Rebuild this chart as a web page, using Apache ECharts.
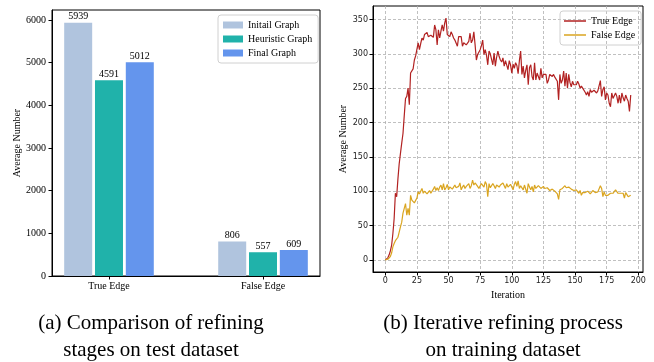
<!DOCTYPE html>
<html>
<head>
<meta charset="utf-8">
<script src="https://cdn.jsdelivr.net/npm/echarts@6/dist/echarts.min.js"></script>
<style>
  html, body { margin: 0; padding: 0; background: #fff; }
  #main { width: 654px; height: 362px; }
</style>
</head>
<body>
<div id="main"></div>
<script>
// 左图：各阶段对比
var edgeTypes = ['True Edge', 'False Edge'];
var initialGraph = [5939, 806];
var heuristicGraph = [4591, 557];
var finalGraph = [5012, 609];

// 右图：迭代过程（0..194）
var trueEdge = [
  0, 1, 3, 7, 13, 21, 38, 60, 97, 92,
  118, 140, 155, 170, 184, 210, 235, 238, 250, 226,
  272, 270, 278, 291, 297, 298, 316, 306, 315, 323,
  320, 328, 330, 331, 325, 323, 327, 325, 324, 342,
  335, 313, 335, 323, 333, 342, 333, 345, 352, 328,
  326, 325, 332, 328, 323, 320, 322, 311, 325, 324,
  325, 311, 316, 314, 313, 315, 318, 330, 316, 320,
  332, 313, 291, 299, 301, 306, 312, 320, 299, 306,
  298, 284, 304, 300, 299, 284, 301, 282, 295, 304,
  296, 291, 288, 294, 282, 290, 291, 277, 290, 284,
  272, 285, 279, 287, 283, 271, 290, 304, 270, 282,
  265, 276, 284, 255, 280, 284, 267, 262, 287, 262,
  272, 267, 262, 279, 265, 270, 268, 270, 257, 262,
  270, 268, 267, 270, 266, 267, 260, 233, 270, 257,
  262, 275, 253, 272, 250, 270, 258, 252, 260, 255,
  257, 255, 260, 256, 250, 253, 250, 248, 244, 240,
  245, 238, 248, 244, 243, 247, 245, 243, 246, 248,
  261, 238, 248, 252, 233, 243, 240, 228, 223, 243,
  235, 233, 243, 238, 228, 240, 228, 243, 236, 231,
  240, 235, 231, 216, 240
];
var falseEdge = [
  0, 0, 1, 2, 5, 10, 19, 24, 28, 29,
  33, 31, 48, 55, 68, 70, 82, 65, 75, 65,
  94, 87, 85, 83, 85, 90, 99, 96, 94, 104,
  97, 100, 102, 96, 94, 101, 97, 99, 103, 107,
  101, 105, 101, 106, 109, 102, 111, 102, 105, 110,
  102, 106, 108, 103, 104, 109, 105, 103, 107, 112,
  102, 106, 109, 104, 107, 105, 111, 104, 108, 116,
  109, 112, 114, 107, 104, 108, 111, 109, 106, 114,
  110, 92, 111, 105, 107, 111, 108, 104, 109, 111,
  106, 109, 107, 112, 108, 104, 111, 106, 107, 110,
  109, 102, 110, 114, 107, 115, 104, 108, 109, 102,
  109, 107, 97, 111, 106, 102, 107, 99, 109, 104,
  104, 108, 109, 104, 106, 107, 104, 102, 105, 104,
  101, 99, 103, 102, 100, 99, 96, 88, 102, 101,
  104, 106, 108, 105, 104, 106, 105, 103, 104, 101,
  99, 102, 100, 97, 101, 94, 98, 99, 98, 99,
  100, 99, 96, 98, 101, 99, 98, 100, 99, 97,
  108, 104, 92, 99, 94, 96, 94, 93, 97, 95,
  97, 99, 102, 101, 97, 96, 97, 95, 97, 90,
  98, 95, 92, 92, 94
];
var barTicks = [0, 1000, 2000, 3000, 4000, 5000, 6000];
var iterTicks = [0, 25, 50, 75, 100, 125, 150, 175, 200];
var numTicks = [0, 50, 100, 150, 200, 250, 300, 350];

var serif = 'Liberation Serif';
var sans = 'DejaVu Sans';

// 柱子放在数值轴上，组内偏移 0.2
function barData(vals, offset) {
  return vals.map(function (v, i) { return [i + offset, v]; });
}
function lineData(vals) {
  return vals.map(function (v, i) { return [i, v]; });
}
function plain(v) { return String(v); }

var myChart = echarts.init(document.getElementById('main'), null, { renderer: 'canvas' });

var barLabel = {
  show: true,
  position: 'top',
  distance: 1,
  fontFamily: serif,
  fontSize: 10,
  color: '#000'
};

var captionStyle = { fontFamily: serif, fontSize: 21, fontWeight: 'normal', color: '#000', lineHeight: 27 };

var option = {
  animation: false,
  backgroundColor: '#fff',
  title: [
    {
      text: '(a) Comparison of refining\nstages on test dataset',
      left: 146,
      top: 305,
      textAlign: 'center',
      textStyle: captionStyle
    },
    {
      text: '(b) Iterative refining process\non training dataset',
      left: 498,
      top: 305,
      textAlign: 'center',
      textStyle: captionStyle
    }
  ],
  legend: [
    {
      data: ['Initail Graph', 'Heuristic Graph', 'Final Graph'],
      orient: 'vertical',
      left: 218,
      top: 15,
      icon: 'rect',
      itemWidth: 20,
      itemHeight: 7,
      itemGap: 2,
      padding: [4, 6, 4, 5],
      borderColor: '#d0d0d0',
      borderWidth: 1,
      borderRadius: 3,
      textStyle: { fontFamily: serif, fontSize: 10, color: '#000', lineHeight: 12 }
    },
    {
      data: ['True Edge', 'False Edge'],
      orient: 'vertical',
      left: 560,
      top: 11,
      icon: 'rect',
      itemWidth: 22,
      itemHeight: 1.5,
      itemGap: 2,
      padding: [4, 6, 4, 4],
      borderColor: '#d0d0d0',
      borderWidth: 1,
      borderRadius: 3,
      textStyle: { fontFamily: serif, fontSize: 10, color: '#000', lineHeight: 12 }
    }
  ],
  grid: [
    { left: 52, right: 334, top: 10, bottom: 86, show: true, borderColor: '#000', borderWidth: 1, outerBoundsMode: 'none' },
    { left: 373, right: 11, top: 6, bottom: 90, show: true, borderColor: '#000', borderWidth: 1, outerBoundsMode: 'none' }
  ],
  xAxis: [
    {
      gridIndex: 0,
      type: 'value',
      min: -0.37,
      max: 1.37,
      axisLine: { show: true, onZero: false, lineStyle: { color: '#000' } },
      axisTick: { show: true, length: 3.5, customValues: [0, 1], lineStyle: { color: '#000' } },
      axisLabel: {
        customValues: [0, 1],
        margin: 5,
        fontFamily: serif,
        fontSize: 10,
        color: '#000',
        formatter: function (v) { return edgeTypes[Math.round(v)]; }
      },
      splitLine: { show: false }
    },
    {
      gridIndex: 1,
      type: 'value',
      min: -9.7,
      max: 203.7,
      name: 'Iteration',
      nameLocation: 'middle',
      nameGap: 17,
      nameTextStyle: { fontFamily: serif, fontSize: 10, color: '#000' },
      axisLine: { show: true, onZero: false, lineStyle: { color: '#000' } },
      axisTick: { show: true, length: 3.5, customValues: iterTicks, lineStyle: { color: '#000' } },
      axisLabel: { customValues: iterTicks, margin: 5, fontFamily: sans, fontSize: 8, color: '#222', formatter: plain },
      splitLine: { show: true, lineStyle: { color: '#b0b0b0', type: [3, 2], width: 0.8 } }
    }
  ],
  yAxis: [
    {
      gridIndex: 0,
      type: 'value',
      min: 0,
      max: 6236,
      name: 'Average Number',
      nameLocation: 'middle',
      nameGap: 30,
      nameTextStyle: { fontFamily: serif, fontSize: 10, color: '#000' },
      axisLine: { show: true, onZero: false, lineStyle: { color: '#000' } },
      axisTick: { show: true, length: 3.5, customValues: barTicks, lineStyle: { color: '#000' } },
      axisLabel: { customValues: barTicks, margin: 6, fontFamily: serif, fontSize: 10, color: '#000', formatter: plain },
      splitLine: { show: false }
    },
    {
      gridIndex: 1,
      type: 'value',
      min: -17.6,
      max: 369.6,
      name: 'Average Number',
      nameLocation: 'middle',
      nameGap: 24,
      nameTextStyle: { fontFamily: serif, fontSize: 10, color: '#000' },
      axisLine: { show: true, onZero: false, lineStyle: { color: '#000' } },
      axisTick: { show: true, length: 3.5, customValues: numTicks, lineStyle: { color: '#000' } },
      axisLabel: { customValues: numTicks, margin: 5, fontFamily: sans, fontSize: 8, color: '#222', formatter: plain },
      splitLine: { show: true, lineStyle: { color: '#b0b0b0', type: [3, 2], width: 0.8 } }
    }
  ],
  series: [
    {
      name: 'Initail Graph', type: 'bar', xAxisIndex: 0, yAxisIndex: 0,
      data: barData(initialGraph, -0.2), barWidth: 28, barGap: '-100%',
      itemStyle: { color: '#b0c4de' }, label: barLabel
    },
    {
      name: 'Heuristic Graph', type: 'bar', xAxisIndex: 0, yAxisIndex: 0,
      data: barData(heuristicGraph, 0), barWidth: 28, barGap: '-100%',
      itemStyle: { color: '#20b2aa' }, label: barLabel
    },
    {
      name: 'Final Graph', type: 'bar', xAxisIndex: 0, yAxisIndex: 0,
      data: barData(finalGraph, 0.2), barWidth: 28, barGap: '-100%',
      itemStyle: { color: '#6495ed' }, label: barLabel
    },
    {
      name: 'True Edge', type: 'line', xAxisIndex: 1, yAxisIndex: 1,
      data: lineData(trueEdge), symbol: 'none',
      lineStyle: { color: '#b22222', width: 1.2 }, itemStyle: { color: '#b22222' }
    },
    {
      name: 'False Edge', type: 'line', xAxisIndex: 1, yAxisIndex: 1,
      data: lineData(falseEdge), symbol: 'none',
      lineStyle: { color: '#daa520', width: 1.2 }, itemStyle: { color: '#daa520' }
    }
  ]
};

myChart.setOption(option);
</script>
</body>
</html>
